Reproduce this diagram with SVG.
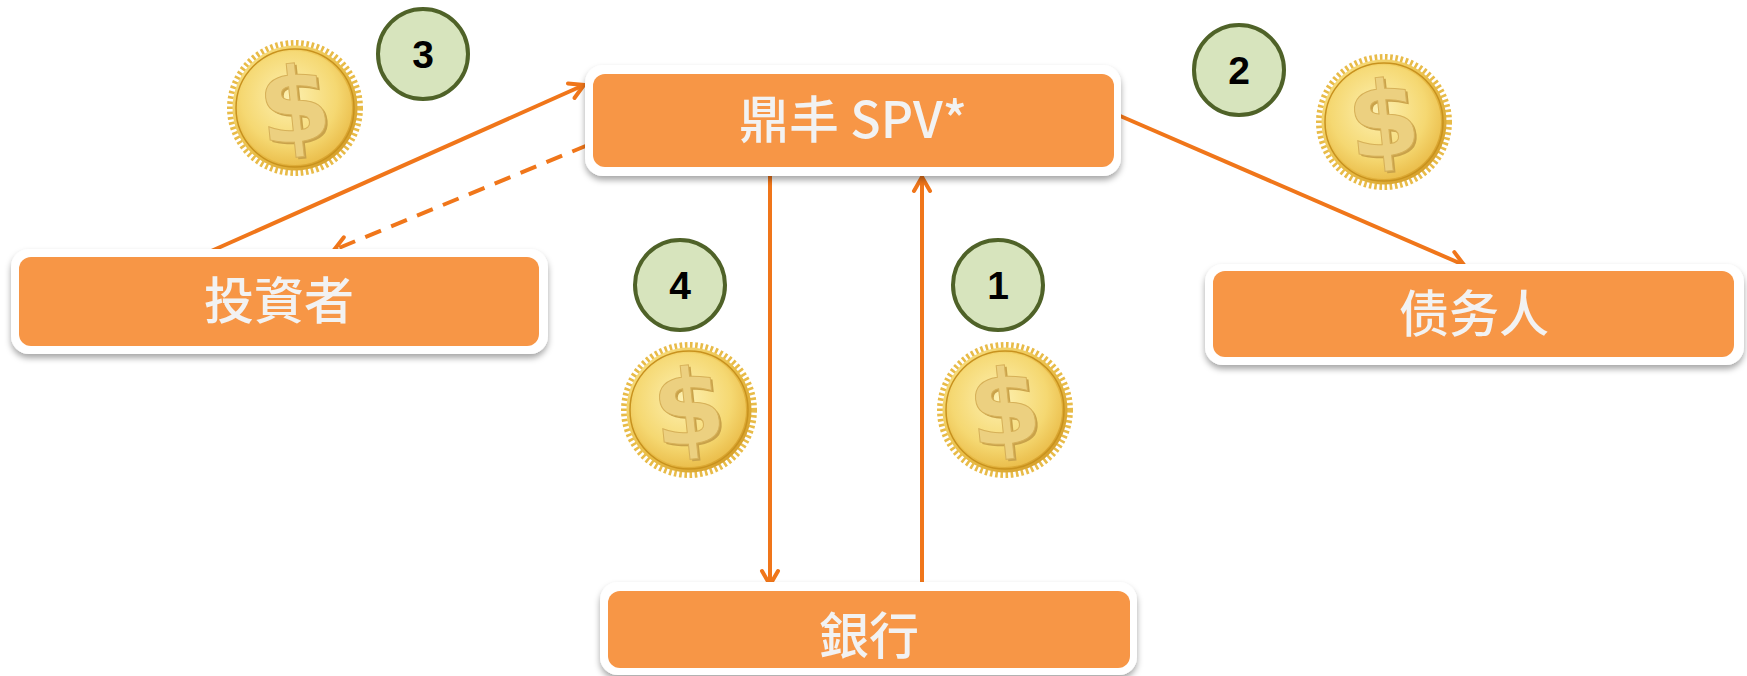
<svg xmlns="http://www.w3.org/2000/svg" xmlns:xlink="http://www.w3.org/1999/xlink" width="1747" height="676" viewBox="0 0 1747 676">
  <style>
    .frame { fill: #ffffff; filter: url(#shadow); }
    .box { fill: #f79646; }
    .label { fill: #f2f2f2; font-family: "Noto Sans CJK TC", "Noto Sans CJK SC", "Noto Sans", sans-serif; font-size: 50px; font-weight: 500; text-anchor: middle; }
    .badge { fill: #d7e4bd; stroke: #4f6228; stroke-width: 4; }
    .num { fill: #000000; font-family: "Liberation Sans", Arial, sans-serif; font-weight: bold; font-size: 39px; text-anchor: middle; }
    .flow { stroke: #f0761a; stroke-width: 4; fill: none; }
    .dashed { stroke-dasharray: 17 11; }
  </style>
  <defs>
    <filter id="shadow" x="-5%" y="-20%" width="110%" height="150%">
      <feDropShadow dx="0" dy="4" stdDeviation="3" flood-color="#000000" flood-opacity="0.35"/>
    </filter>
    <marker id="arrow" viewBox="-18 -11 22 22" markerWidth="22" markerHeight="22" refX="0" refY="0" orient="auto" markerUnits="userSpaceOnUse">
      <path d="M-14,-8 L0,0 L-14,8" fill="none" stroke="#f0761a" stroke-width="4" stroke-linecap="round" stroke-linejoin="miter"/>
    </marker>
    <linearGradient id="goldEdge" x1="0" y1="0" x2="1" y2="1">
      <stop offset="0" stop-color="#fbe58a"/>
      <stop offset="0.5" stop-color="#eabf4a"/>
      <stop offset="1" stop-color="#cf9520"/>
    </linearGradient>
    <radialGradient id="goldFace" cx="0.45" cy="0.4" r="0.7">
      <stop offset="0" stop-color="#fdf0b0"/>
      <stop offset="0.6" stop-color="#f5d872"/>
      <stop offset="1" stop-color="#e6b23a"/>
    </radialGradient>
    <!-- gold dollar coin, centred on the origin -->
    <g id="coin">
      <circle r="65" fill="none" stroke="#e8bb48" stroke-width="6" stroke-dasharray="2.6 2.6"/>
      <circle r="62.5" fill="url(#goldEdge)"/>
      <circle r="59" fill="none" stroke="#c8921e" stroke-width="1.5"/>
      <circle r="57" fill="url(#goldFace)"/>
      <text x="2" y="36" font-family="DejaVu Sans, sans-serif" font-weight="bold" font-size="104" text-anchor="middle" fill="#c9a24a" transform="rotate(-6)">$</text>
      <text x="0" y="34" font-family="DejaVu Sans, sans-serif" font-weight="bold" font-size="104" text-anchor="middle" fill="#ecd080" stroke="#d6b058" stroke-width="1" transform="rotate(-6)">$</text>
    </g>
  </defs>

  <rect width="1747" height="676" fill="#ffffff"/>

  <!-- coins -->
  <g id="coins">
    <use xlink:href="#coin" href="#coin" x="295" y="108"/>
    <use xlink:href="#coin" href="#coin" x="1384" y="122"/>
    <use xlink:href="#coin" href="#coin" x="689" y="410"/>
    <use xlink:href="#coin" href="#coin" x="1005" y="410"/>
  </g>

  <!-- step badges -->
  <g id="step1"><circle class="badge" cx="998" cy="285" r="45"/><text class="num" x="998" y="299">1</text></g>
  <g id="step2"><circle class="badge" cx="1239" cy="70" r="45"/><text class="num" x="1239" y="84">2</text></g>
  <g id="step3"><circle class="badge" cx="423" cy="54" r="45"/><text class="num" x="423" y="68">3</text></g>
  <g id="step4"><circle class="badge" cx="680" cy="285" r="45"/><text class="num" x="680" y="299">4</text></g>

  <!-- connectors -->
  <g id="connectors">
    <line class="flow" x1="209" y1="252" x2="584" y2="85" marker-end="url(#arrow)"/>
    <line class="flow dashed" x1="588" y1="145" x2="334" y2="250" marker-end="url(#arrow)"/>
    <line class="flow" x1="1118" y1="115" x2="1464" y2="265" marker-end="url(#arrow)"/>
    <line class="flow" x1="770" y1="176" x2="770" y2="585" marker-end="url(#arrow)"/>
    <line class="flow" x1="922" y1="582" x2="922" y2="177" marker-end="url(#arrow)"/>
  </g>

  <!-- nodes -->
  <g id="spv">
    <rect class="frame" x="585" y="65" width="536" height="111" rx="18"/>
    <rect class="box" x="593" y="74" width="521" height="93" rx="12"/>
    <text class="label" x="853" y="138">鼎丰 SPV*</text>
  </g>
  <g id="investors">
    <rect class="frame" x="11" y="249" width="537" height="105" rx="18"/>
    <rect class="box" x="19" y="257" width="520" height="89" rx="12"/>
    <text class="label" x="279" y="319">投資者</text>
  </g>
  <g id="debtor">
    <rect class="frame" x="1205" y="264" width="539" height="101" rx="18"/>
    <rect class="box" x="1213" y="271" width="521" height="86" rx="12"/>
    <text class="label" x="1474" y="332" style="font-family: 'Noto Sans CJK SC', 'Noto Sans', sans-serif">债务人</text>
  </g>
  <g id="bank">
    <rect class="frame" x="600" y="582" width="537" height="93" rx="18"/>
    <rect class="box" x="608" y="591" width="522" height="77" rx="12"/>
    <text class="label" x="869" y="654">銀行</text>
  </g>
</svg>
